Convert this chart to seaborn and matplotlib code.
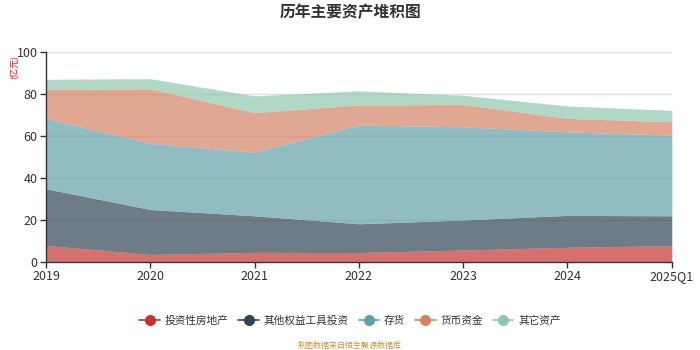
import matplotlib
matplotlib.use("Agg")
import matplotlib.pyplot as plt
from matplotlib.lines import Line2D
import seaborn as sns
import numpy as np
import pandas as pd

years = ["2019", "2020", "2021", "2022", "2023", "2024", "2025Q1"]
series_names = ["投资性房地产", "其他权益工具投资", "存货", "货币资金", "其它资产"]
invest_property = [7.9, 3.6, 4.6, 4.5, 5.7, 7.0, 7.8]
other_equity = [27.0, 21.4, 17.4, 13.7, 14.3, 15.2, 14.2]
inventory = [33.4, 31.5, 30.3, 47.0, 44.4, 39.8, 38.4]
cash = [14.0, 26.0, 18.8, 9.6, 10.6, 6.4, 6.4]
other_assets = [4.7, 4.8, 8.0, 6.7, 4.4, 5.9, 5.4]
colors = ["#c23531", "#2f4554", "#61a0a8", "#d48265", "#91c7ae"]

sns.set_theme(style="white")
plt.rcParams['font.family'] = ['Noto Sans CJK SC', 'DejaVu Sans']

df = pd.DataFrame({"year": years, series_names[0]: invest_property, series_names[1]: other_equity,
                   series_names[2]: inventory, series_names[3]: cash, series_names[4]: other_assets})

fig = plt.figure(figsize=(7, 3.5), dpi=100)
ax = fig.add_axes([0.0657, 0.2514, 0.894, 0.60])

x = np.arange(len(years))
for yv in [20, 40, 60, 80, 100]:
    ax.axhline(yv, color="#e0e0e0", lw=1, zorder=0)
ax.stackplot(x, [df[n].values for n in series_names], colors=colors, alpha=0.7, lw=0, zorder=1)

ax.set_xlim(0, len(years) - 1)
ax.set_ylim(0, 100)
ax.set_xticks(x)
ax.set_xticklabels(years, fontsize=9, color="#333333")
ax.set_yticks([0, 20, 40, 60, 80, 100])
ax.set_yticklabels(["0", "20", "40", "60", "80", "100"], fontsize=9, color="#333333")
ax.tick_params(axis="x", length=4, width=1, color="#333333", pad=2, direction="out", bottom=True)
ax.tick_params(axis="y", length=4, width=1, color="#333333", pad=2, left=True)
for s in ["top", "right"]:
    ax.spines[s].set_visible(False)
for s in ["left", "bottom"]:
    ax.spines[s].set_color("#333333")
    ax.spines[s].set_linewidth(1)

fig.text(15 / 700, 1 - 67 / 350, "(亿元)", color="red", fontsize=6.5, rotation=90, ha="center", va="center")
fig.text(0.5, 1 - 12 / 350, "历年主要资产堆积图", fontsize=11.3, fontweight="bold", color="#333333",
         ha="center", va="center")

handles = [Line2D([0], [0], color=c, marker="o", markersize=7, lw=1.2) for c in colors]
fig.legend(handles, series_names, loc="center", bbox_to_anchor=(0.5, 1 - 321 / 350), ncol=5,
           frameon=False, fontsize=7.7, handlelength=1.9, columnspacing=0.95, handletextpad=0.45,
           labelcolor="#333333")
fig.text(0.5, 1 - 345 / 350, "制图数据来自恒生聚源数据库", fontsize=5.8, color="#c8963c",
         ha="center", va="center")

fig.savefig("out.png", dpi=100)
